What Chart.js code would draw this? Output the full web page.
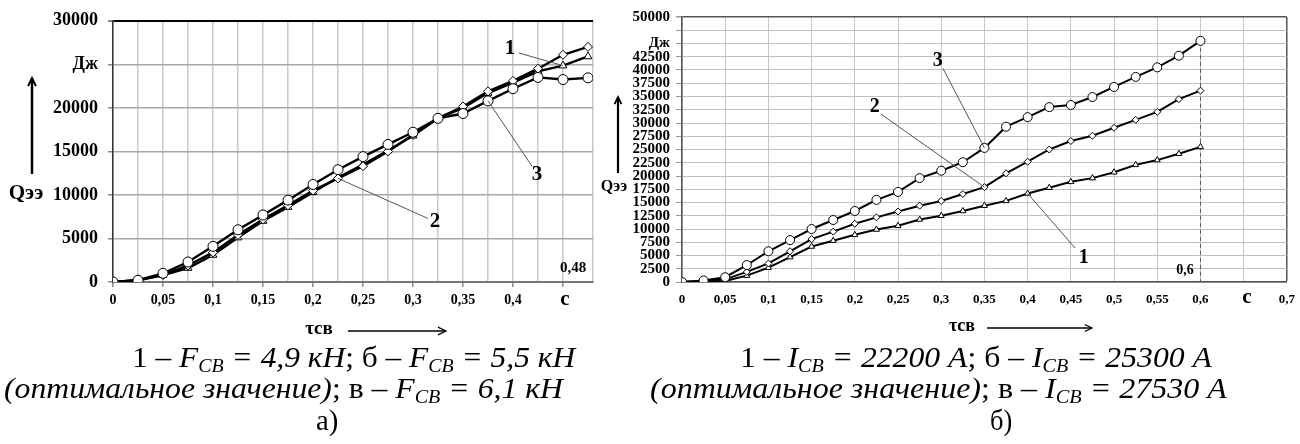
<!DOCTYPE html>
<html lang="ru">
<head>
    <meta charset="UTF-8">
    <title>Qээ от времени сварки</title>
    <script src="https://cdn.jsdelivr.net/npm/chart.js"></script>
    <style>
        body {
            margin: 0;
            padding: 0;
            background: #fff;
            width: 1300px;
            height: 444px;
            position: relative;
            overflow: hidden;
            font-family: 'Liberation Serif', 'Times New Roman', serif;
        }
        canvas { position: absolute; top: 0; }
        #leftChart { left: 0; }
        #rightChart { left: 600px; }
        .cap {
            position: absolute;
            font-size: 30px;
            line-height: 30px;
            white-space: nowrap;
            color: #000;
            transform-origin: left center;
        }
        .cap sub { font-size: 19px; vertical-align: -5px; line-height: 0; }
    </style>
</head>
<body>
    <canvas id="leftChart" width="600" height="344"></canvas>
    <canvas id="rightChart" width="700" height="344"></canvas>

    <!-- подписи под графиками -->
    <div class="cap" data-x="132" data-w="443" style="top:342px">1 – <i>F<sub>СВ</sub> = 4,9 кН</i>; б – <i>F<sub>СВ</sub> = 5,5 кН</i></div>
    <div class="cap" data-x="4" data-w="559" style="top:373px"><i>(оптимальное значение)</i>; в – <i>F<sub>СВ</sub> = 6,1 кН</i></div>
    <div class="cap" data-x="316" data-w="22" style="top:405px">а)</div>

    <div class="cap" data-x="740" data-w="472" style="top:342px">1 – <i>I<sub>СВ</sub> = 22200 А</i>; б – <i>I<sub>СВ</sub> = 25300 А</i></div>
    <div class="cap" data-x="650" data-w="577" style="top:373px"><i>(оптимальное значение)</i>; в – <i>I<sub>СВ</sub> = 27530 А</i></div>
    <div class="cap" data-x="990" data-w="22" style="top:405px">б)</div>

    <script>
        // ---- данные: а) усилие сжатия
        var xLeft = [0, 0.025, 0.05, 0.075, 0.1, 0.125, 0.15, 0.175, 0.2, 0.225,
                     0.25, 0.275, 0.3, 0.325, 0.35, 0.375, 0.4, 0.425, 0.45, 0.475];
        var left1 = [0, 200, 800, 1600, 3100, 5100, 7000, 8600, 10300, 12000,
                     13500, 15100, 16800, 18800, 20000, 21700, 22900, 24200, 24850, 25900];
        var left2 = [0, 200, 800, 1900, 3400, 5400, 7200, 8800, 10500, 11900,
                     13300, 15000, 16900, 18800, 20150, 21900, 23100, 24500, 26100, 27000];
        var left3 = [0, 200, 1000, 2300, 4100, 6000, 7700, 9400, 11200, 12900,
                     14400, 15800, 17200, 18800, 19350, 20800, 22200, 23500, 23250, 23450];

        // ---- данные: б) сварочный ток
        var xRight = [0, 0.025, 0.05, 0.075, 0.1, 0.125, 0.15, 0.175, 0.2, 0.225, 0.25, 0.275,
                      0.3, 0.325, 0.35, 0.375, 0.4, 0.425, 0.45, 0.475, 0.5, 0.525, 0.55, 0.575, 0.6];
        var right1 = [0, 100, 200, 1200, 2700, 4700, 6700, 7800, 8900, 9900, 10600, 11800,
                      12500, 13400, 14400, 15300, 16700, 17800, 18900, 19600, 20700, 22100, 23000, 24200, 25500];
        var right2 = [0, 200, 500, 1900, 3500, 5800, 8100, 9500, 11000, 12200, 13300, 14400,
                      15300, 16600, 17900, 20500, 22700, 25000, 26600, 27600, 29100, 30600, 32100, 34500, 36100];
        var right3 = [0, 300, 900, 3200, 5800, 7900, 10000, 11700, 13400, 15500, 17000, 19600,
                      21000, 22600, 25300, 29300, 31100, 33000, 33400, 34900, 36800, 38700, 40500, 42700, 45500];

        // ось времени: метки через 0,05, вместо некоторых - единицы
        var leftHidden = [0.45];
        var rightHidden = [0.65];

        var SERIF = '"Liberation Serif", "Times New Roman", serif';

        function pts(xs, ys) {
            return xs.map(function (x, i) { return { x: x, y: ys[i] }; });
        }

        function fmtX(v) {
            return String(+v.toFixed(3)).replace('.', ',');
        }

        function series(label, xs, ys, style, r, order) {
            return {
                label: label,
                data: pts(xs, ys),
                borderColor: '#000',
                borderWidth: 2.4,
                pointStyle: style,
                pointRadius: r,
                pointBackgroundColor: '#fff',
                pointBorderColor: '#000',
                pointBorderWidth: 1,
                order: order
            };
        }

        // подписи, стрелки, выноски
        var decoPlugin = {
            id: 'deco',
            afterDatasetsDraw: function (chart, args, opts) {
                var ctx = chart.ctx, xs = chart.scales.x, ys = chart.scales.y;
                ctx.save();
                ctx.fillStyle = '#000';
                (opts.leaders || []).forEach(function (l) {
                    ctx.strokeStyle = '#555';
                    ctx.lineWidth = 1;
                    ctx.beginPath();
                    ctx.moveTo(xs.getPixelForValue(l.from[0]), ys.getPixelForValue(l.from[1]));
                    ctx.lineTo(xs.getPixelForValue(l.to[0]), ys.getPixelForValue(l.to[1]));
                    ctx.stroke();
                    ctx.font = 'bold ' + l.size + 'px ' + SERIF;
                    ctx.textAlign = 'center';
                    ctx.textBaseline = 'middle';
                    ctx.fillText(l.text, xs.getPixelForValue(l.at[0]), ys.getPixelForValue(l.at[1]));
                });
                (opts.texts || []).forEach(function (t) {
                    ctx.font = 'bold ' + t.size + 'px ' + SERIF;
                    ctx.textAlign = t.align || 'center';
                    ctx.textBaseline = 'middle';
                    ctx.fillText(t.text, t.x, t.y);
                });
                (opts.arrows || []).forEach(function (a) {
                    ctx.strokeStyle = '#000';
                    ctx.lineWidth = a.w;
                    ctx.beginPath();
                    ctx.moveTo(a.x1, a.y1);
                    ctx.lineTo(a.x2, a.y2);
                    ctx.stroke();
                    var ang = Math.atan2(a.y2 - a.y1, a.x2 - a.x1), h = a.head;
                    ctx.lineWidth = a.w * 0.8;
                    ctx.beginPath();
                    ctx.moveTo(a.x2 - h * Math.cos(ang - 0.45), a.y2 - h * Math.sin(ang - 0.45));
                    ctx.lineTo(a.x2, a.y2);
                    ctx.lineTo(a.x2 - h * Math.cos(ang + 0.45), a.y2 - h * Math.sin(ang + 0.45));
                    ctx.stroke();
                });
                ctx.restore();
            }
        };

        // ---------- график а)
        new Chart(document.getElementById('leftChart'), {
            type: 'line',
            data: {
                datasets: [
                    series('1', xLeft, left1, 'triangle', 4.5, 2),
                    series('2', xLeft, left2, 'rectRot', 4.5, 1),
                    series('3', xLeft, left3, 'circle', 5, 0)
                ]
            },
            options: {
                responsive: false,
                animation: false,
                devicePixelRatio: 1,
                layout: { padding: { left: 0, top: 20, right: 7, bottom: 0 } },
                plugins: {
                    legend: { display: false },
                    tooltip: { enabled: false },
                    deco: {
                        leaders: [
                            { text: '1', size: 21, at: [0.397, 26800], from: [0.406, 26300], to: [0.45, 24850] },
                            { text: '2', size: 21, at: [0.322, 6900], from: [0.315, 7300], to: [0.225, 11900] },
                            { text: '3', size: 21, at: [0.424, 12300], from: [0.419, 13300], to: [0.375, 20800] }
                        ],
                        texts: [
                            { text: 'c', size: 21, x: 565, y: 300 },
                            { text: '0,48', size: 15, x: 573, y: 268 },
                            { text: 'τсв', size: 19, x: 319, y: 329 },
                            { text: 'Qээ', size: 21, x: 26, y: 194 }
                        ],
                        arrows: [
                            { x1: 348, y1: 331, x2: 446, y2: 331, w: 1.6, head: 9 },
                            { x1: 32, y1: 174, x2: 32, y2: 78, w: 2.5, head: 9 }
                        ]
                    }
                },
                scales: {
                    x: {
                        type: 'linear',
                        min: 0,
                        max: 0.48,
                        afterFit: function (s) { s.height = 62; },
                        border: { color: '#777', width: 2 },
                        grid: {
                            color: '#c8c8c8',
                            lineWidth: 1.5,
                            tickLength: 5,
                            tickColor: function (c) {
                                return c.tick && Math.round(c.tick.value * 1000) % 50 === 0 ? '#888' : 'rgba(0,0,0,0)';
                            }
                        },
                        ticks: {
                            stepSize: 0.025,
                            autoSkip: false,
                            maxRotation: 0,
                            padding: 5,
                            color: '#000',
                            font: { family: SERIF, size: 14, weight: 'bold' },
                            callback: function (v) {
                                var m = Math.round(v * 1000);
                                if (m % 50 !== 0 || m > 475) return '';
                                if (leftHidden.indexOf(m / 1000) >= 0) return '';
                                return fmtX(v);
                            }
                        }
                    },
                    y: {
                        min: 0,
                        max: 30000,
                        afterFit: function (s) { s.width = 113; },
                        border: { color: '#333', width: 1.5 },
                        grid: {
                            color: function (c) { return c.tick && c.tick.value === 30000 ? '#000' : '#a8a8a8'; },
                            lineWidth: function (c) { return c.tick && c.tick.value === 30000 ? 2 : 1.5; },
                            tickLength: 5,
                            tickColor: '#888'
                        },
                        ticks: {
                            stepSize: 5000,
                            autoSkip: false,
                            padding: 10,
                            color: '#000',
                            font: { family: SERIF, size: 18, weight: 'bold' },
                            callback: function (v) { return v === 25000 ? 'Дж' : String(v); }
                        }
                    }
                }
            },
            plugins: [decoPlugin]
        });

        // ---------- график б)
        var rDs = [
            series('1', xRight, right1, 'triangle', 3.5, 2),
            series('2', xRight, right2, 'rectRot', 3.5, 1),
            series('3', xRight, right3, 'circle', 4.5, 0)
        ];
        rDs.forEach(function (d) { d.borderWidth = 2; });
        // пунктир на 0,6
        rDs.push({
            data: [{ x: xRight[xRight.length - 1], y: right3[right3.length - 1] }, { x: xRight[xRight.length - 1], y: 0 }],
            borderColor: '#555',
            borderWidth: 1,
            borderDash: [4, 3],
            pointRadius: 0,
            order: 5
        });

        new Chart(document.getElementById('rightChart'), {
            type: 'line',
            data: { datasets: rDs },
            options: {
                responsive: false,
                animation: false,
                devicePixelRatio: 1,
                layout: { padding: { left: 0, top: 17, right: 12, bottom: 0 } },
                plugins: {
                    legend: { display: false },
                    tooltip: { enabled: false },
                    deco: {
                        leaders: [
                            { text: '3', size: 20, at: [0.296, 41800], from: [0.302, 40300], to: [0.35, 25300] },
                            { text: '2', size: 20, at: [0.223, 33000], from: [0.23, 31700], to: [0.35, 17900] },
                            { text: '1', size: 20, at: [0.465, 4500], from: [0.455, 6400], to: [0.4, 16700] }
                        ],
                        texts: [
                            { text: 'c', size: 21, x: 647, y: 298 },
                            { text: '0,6', size: 14, x: 585, y: 270 },
                            { text: 'τсв', size: 18, x: 362, y: 326 },
                            { text: 'Qээ', size: 16, x: 14, y: 187 }
                        ],
                        arrows: [
                            { x1: 387, y1: 328, x2: 492, y2: 328, w: 1.5, head: 8 },
                            { x1: 18, y1: 173, x2: 18, y2: 97, w: 2.2, head: 8 }
                        ]
                    }
                },
                scales: {
                    x: {
                        type: 'linear',
                        min: 0,
                        max: 0.7,
                        afterFit: function (s) { s.height = 62; },
                        border: { color: '#555', width: 1.5 },
                        grid: {
                            color: function (c) { return c.tick && c.tick.value >= 0.7 ? '#555' : '#c8c8c8'; },
                            lineWidth: function (c) { return c.tick && c.tick.value >= 0.7 ? 1.5 : 1; },
                            tickLength: 5,
                            tickColor: 'rgba(0,0,0,0)'
                        },
                        ticks: {
                            stepSize: 0.05,
                            autoSkip: false,
                            maxRotation: 0,
                            padding: 5,
                            color: '#000',
                            font: { family: SERIF, size: 13, weight: 'bold' },
                            callback: function (v) {
                                var m = Math.round(v * 1000);
                                if (rightHidden.indexOf(m / 1000) >= 0) return '';
                                return fmtX(v);
                            }
                        }
                    },
                    y: {
                        min: 0,
                        max: 50000,
                        afterFit: function (s) { s.width = 82; },
                        border: { color: '#555', width: 1.5 },
                        grid: {
                            color: function (c) { return c.tick && c.tick.value === 50000 ? '#555' : '#c0c0c0'; },
                            lineWidth: function (c) { return c.tick && c.tick.value === 50000 ? 1.5 : 1; },
                            tickLength: 6,
                            tickColor: '#999'
                        },
                        ticks: {
                            stepSize: 2500,
                            autoSkip: false,
                            padding: 6,
                            color: '#000',
                            font: { family: SERIF, size: 15, weight: 'bold' },
                            callback: function (v) {
                                if (v === 47500) return '';
                                return v === 45000 ? 'Дж' : String(v);
                            }
                        }
                    }
                }
            },
            plugins: [decoPlugin]
        });

        // подгонка ширины строк подписей
        document.querySelectorAll('.cap').forEach(function (el) {
            el.style.left = el.dataset.x + 'px';
            if (el.dataset.w) {
                var k = (+el.dataset.w) / el.offsetWidth;
                el.style.transform = 'scaleX(' + k.toFixed(3) + ')';
            }
        });
    </script>
</body>
</html>
